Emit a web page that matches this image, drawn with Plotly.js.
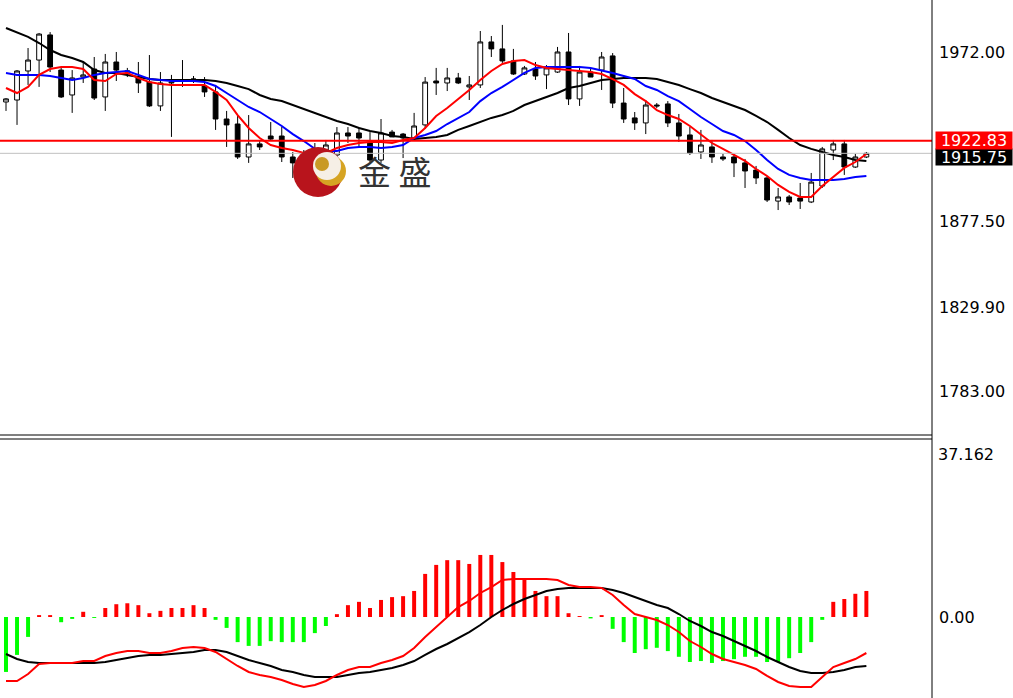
<!DOCTYPE html>
<html>
<head>
<meta charset="utf-8">
<script src="https://cdn.plot.ly/plotly-3.0.1.min.js"></script>
<style>html,body{margin:0;padding:0;background:#fff;}#chart{width:1013px;height:698px;}</style>
</head>
<body>
<div id="chart"></div>
<script>
// ---- Price candles ----
const opens = [1944.4,1945.5,1961.7,1967.8,1981.8,1962.2,1948.3,1958.3,1962.8,1947.2,
1966.7,1961.1,1958.3,1955.5,1942.2,1955.0,1956.1,1956.7,1953.3,1950.0,
1934.9,1932.1,1913.7,1921.0,1925.4,1925.4,1913.7,1912.0,1908.7,1913.7,
1914.8,1927.1,1927.1,1922.1,1912.0,1927.6,1926.5,1924.3,1931.6,1956.1,
1955.0,1957.8,1952.8,1953.9,1977.9,1974.0,1967.3,1960.0,1962.8,1959.5,
1961.1,1972.3,1946.1,1961.1,1962.2,1970.1,1943.8,1935.5,1932.7,1942.7,
1943.3,1932.7,1926.0,1916.5,1919.3,1913.7,1913.7,1910.4,1906.4,1902.0,
1889.1,1891.4,1890.8,1888.6,1897.5,1917.6,1921.0,1908.1,1913.7];
const highs = [1946.6,1962.2,1974.5,1982.9,1983.4,1963.9,1962.2,1966.7,1969.5,1971.2,
1972.3,1963.4,1966.7,1970.6,1961.1,1959.5,1967.8,1958.9,1958.3,1953.9,
1939.4,1937.1,1937.1,1923.2,1933.2,1930.4,1916.5,1917.6,1921.5,1923.2,
1930.4,1930.4,1930.4,1927.6,1934.9,1928.8,1927.1,1938.3,1958.3,1963.4,
1963.4,1960.6,1958.9,1984.0,1981.2,1987.4,1974.0,1964.5,1966.7,1965.0,
1975.1,1982.9,1964.5,1962.8,1972.3,1971.7,1952.2,1938.8,1945.5,1943.8,
1944.9,1937.7,1930.4,1928.8,1923.2,1915.4,1915.4,1912.6,1908.7,1903.1,
1896.4,1892.5,1899.2,1904.8,1919.3,1923.2,1923.2,1915.4,1916.5];
const lows = [1939.4,1931.6,1953.9,1952.8,1961.1,1946.6,1938.3,1955.0,1945.5,1939.4,
1956.1,1958.3,1949.4,1941.6,1939.4,1924.9,1952.8,1955.0,1947.2,1928.8,
1919.3,1912.6,1910.4,1917.6,1923.2,1910.9,1902.0,1895.3,1905.3,1909.2,
1912.0,1921.5,1919.3,1910.9,1910.4,1924.9,1913.1,1923.2,1929.3,1948.3,
1950.5,1954.4,1945.5,1952.2,1969.5,1966.2,1959.5,1959.5,1956.7,1951.6,
1960.6,1942.7,1942.2,1958.3,1951.1,1941.0,1932.7,1928.8,1926.5,1941.0,
1930.4,1922.1,1914.8,1912.6,1910.4,1911.5,1902.5,1896.4,1898.6,1888.6,
1884.1,1886.9,1884.7,1888.0,1896.4,1912.0,1903.7,1907.6,1913.1];
const closes = [1946.1,1961.7,1967.8,1982.3,1963.9,1947.2,1957.8,1959.5,1946.6,1966.7,
1962.2,1961.7,1955.0,1942.2,1955.0,1955.5,1956.7,1957.2,1950.0,1934.9,
1931.6,1913.7,1921.0,1919.3,1923.7,1913.7,1910.4,1906.4,1916.5,1920.4,
1927.1,1925.4,1924.3,1912.0,1927.1,1924.9,1924.3,1931.0,1955.5,1955.0,
1957.8,1955.0,1953.9,1977.9,1974.0,1967.3,1960.0,1963.4,1958.9,1963.4,
1972.3,1946.1,1961.1,1958.3,1969.5,1943.8,1934.9,1932.7,1942.7,1942.2,
1932.7,1925.4,1915.9,1920.4,1913.7,1912.6,1910.4,1905.9,1902.0,1889.7,
1891.4,1888.6,1889.1,1899.7,1918.2,1921.0,1908.1,1913.7,1915.75];

// ---- Moving averages ----
const maRed = [1952.2,1949.4,1952.8,1959.5,1962.8,1963.9,1963.9,1962.8,1956.7,1956.1,
1960.0,1960.6,1957.8,1955.5,1954.4,1953.9,1953.9,1953.9,1953.9,1950.0,
1945.5,1937.1,1929.9,1924.3,1920.4,1918.7,1917.6,1915.9,1915.4,1915.9,
1918.7,1920.4,1921.5,1922.1,1922.1,1921.5,1923.2,1924.3,1929.9,1936.6,
1941.0,1946.1,1951.1,1956.7,1961.7,1965.6,1967.3,1967.8,1965.0,1963.4,
1962.8,1962.2,1961.7,1961.1,1960.0,1957.2,1953.9,1948.8,1944.9,1939.9,
1937.1,1934.9,1931.0,1926.0,1921.5,1918.2,1914.8,1911.5,1907.0,1903.1,
1898.1,1894.2,1891.4,1891.4,1897.5,1902.5,1907.6,1910.9,1915.4];
const maBlue = [1960.6,1959.5,1959.5,1959.5,1958.9,1957.8,1956.7,1957.8,1959.5,1960.6,
1961.1,1961.7,1959.5,1957.2,1956.7,1956.1,1956.1,1956.1,1955.5,1953.3,
1949.4,1945.5,1941.6,1938.8,1934.9,1931.0,1926.5,1922.6,1918.2,1917.0,
1917.0,1918.7,1919.3,1919.3,1918.7,1919.3,1920.4,1924.3,1926.0,1928.2,
1932.1,1935.5,1938.8,1944.9,1949.4,1952.8,1956.7,1960.6,1963.4,1963.9,
1963.9,1963.9,1963.9,1963.4,1962.2,1960.6,1958.9,1957.2,1953.3,1951.1,
1947.7,1944.9,1940.5,1936.0,1932.1,1928.2,1926.0,1922.6,1917.6,1912.0,
1907.0,1903.7,1902.0,1900.9,1900.9,1900.9,1901.4,1902.5,1903.1];
const maBlack = [1985.7,1983.4,1980.7,1977.3,1973.4,1970.6,1968.9,1966.7,1962.2,1960.6,
1960.6,1959.5,1958.3,1957.2,1956.7,1956.7,1956.7,1956.7,1956.7,1956.1,
1955.0,1953.3,1951.6,1948.3,1946.1,1944.9,1942.7,1940.5,1938.3,1936.0,
1933.8,1932.1,1929.9,1928.2,1927.1,1925.4,1924.9,1923.7,1924.3,1924.9,
1926.0,1928.8,1931.0,1933.2,1935.5,1937.1,1939.4,1942.7,1944.9,1947.2,
1949.4,1952.2,1953.3,1955.0,1956.7,1957.2,1957.8,1957.8,1957.8,1957.2,
1955.5,1953.9,1951.6,1949.4,1946.6,1944.4,1942.2,1939.9,1936.6,1933.2,
1928.8,1924.3,1920.4,1918.2,1916.5,1914.8,1913.7,1912.0,1911.5];

// ---- MACD panel ----
const macdHist = [-11.6,-8.0,-4.2,0.4,0.4,-1.1,-0.4,1.1,-0.2,1.9,
2.7,2.9,2.5,0.8,1.3,1.9,1.9,2.5,1.9,-0.6,
-2.3,-5.3,-6.1,-6.1,-5.1,-5.3,-5.3,-5.3,-3.4,-1.9,
0.6,2.5,3.2,1.9,3.6,4.2,4.4,5.5,9.1,11.0,
12.0,12.0,11.2,13.1,13.1,11.6,9.5,8.2,5.5,4.4,
4.4,0.8,0.2,-0.3,0.4,-2.5,-5.3,-7.6,-6.8,-6.5,
-7.2,-8.4,-9.5,-9.3,-9.7,-9.3,-8.9,-8.4,-8.4,-9.5,
-9.5,-8.7,-7.6,-5.3,-0.6,3.2,3.8,4.9,5.5];
const macdRed = [-13.51,-13.51,-12.03,-9.92,-9.71,-9.71,-9.71,-9.29,-9.29,-8.23,
-7.60,-7.18,-7.18,-7.60,-7.60,-7.18,-6.54,-6.33,-6.54,-7.39,
-8.87,-10.34,-11.61,-12.24,-12.67,-13.30,-14.14,-14.78,-14.35,-13.51,
-12.24,-11.19,-10.56,-10.56,-9.71,-9.08,-8.23,-6.54,-4.22,-2.11,
0.00,2.11,3.38,5.07,6.33,7.81,8.02,8.02,8.02,8.02,
7.81,6.76,6.33,6.33,6.12,4.64,2.53,0.63,0.00,-0.63,
-1.69,-3.17,-5.07,-6.33,-7.81,-8.87,-9.50,-10.13,-10.98,-12.45,
-13.72,-14.57,-14.78,-14.78,-12.67,-10.56,-9.71,-8.87,-7.60];
const macdBlack = [-7.81,-8.87,-9.50,-9.71,-9.71,-9.71,-9.71,-9.71,-9.71,-9.50,
-9.08,-8.66,-8.23,-8.02,-8.02,-7.81,-7.60,-7.39,-6.97,-6.97,
-7.39,-8.23,-9.08,-9.71,-10.34,-11.19,-11.61,-12.24,-12.67,-12.67,
-12.67,-12.24,-11.82,-11.61,-11.19,-10.77,-10.13,-9.29,-8.02,-6.76,
-5.70,-4.43,-3.17,-1.69,0.00,1.48,2.74,3.80,4.64,5.49,
5.91,6.12,6.12,6.12,6.12,5.70,5.07,4.22,3.38,2.53,
1.90,0.63,-0.84,-1.90,-3.17,-4.01,-5.07,-6.12,-7.18,-8.44,
-9.50,-10.56,-11.40,-11.82,-11.82,-11.61,-11.19,-10.56,-10.34];

// ---- Tick labels / levels ----
const priceTicks = [1972.00, 1877.50, 1829.90, 1783.00];
const priceTickText = ["1972.00", "1877.50", "1829.90", "1783.00"];
const macdTicks = [0];
const macdTickText = ["0.00"];
const macdMaxLabel = 37.162;
const alertLevel = 1922.83;
const lastPrice = 1915.75;
const watermark = "金 盛";

const idx = opens.map((_, i) => i);
const font = 'DejaVu Sans, Verdana, sans-serif';

const traces = [
  {type:'candlestick', x:idx, open:opens, high:highs, low:lows, close:closes,
   increasing:{line:{color:'#000', width:1}, fillcolor:'#fff'},
   decreasing:{line:{color:'#000', width:1}, fillcolor:'#000'},
   whiskerwidth:0, hoverinfo:'skip', xaxis:'x', yaxis:'y'},
  {type:'scatter', mode:'lines', x:idx, y:maBlack, line:{color:'#000', width:2}, xaxis:'x', yaxis:'y', hoverinfo:'skip'},
  {type:'scatter', mode:'lines', x:idx, y:maBlue, line:{color:'#0000ff', width:2}, xaxis:'x', yaxis:'y', hoverinfo:'skip'},
  {type:'scatter', mode:'lines', x:idx, y:maRed, line:{color:'#ff0000', width:2}, xaxis:'x', yaxis:'y', hoverinfo:'skip'},
  {type:'bar', x:idx, y:macdHist, width:0.36,
   marker:{color:macdHist.map(v => v >= 0 ? '#ff0000' : '#00ff00'), line:{width:0}},
   xaxis:'x', yaxis:'y2', hoverinfo:'skip'},
  {type:'scatter', mode:'lines', x:idx, y:macdBlack, line:{color:'#000', width:2}, xaxis:'x', yaxis:'y2', hoverinfo:'skip'},
  {type:'scatter', mode:'lines', x:idx, y:macdRed, line:{color:'#ff0000', width:2}, xaxis:'x', yaxis:'y2', hoverinfo:'skip'}
];

function circ(cx, cy, r, color) {
  return {type:'circle', xref:'paper', yref:'paper', xsizemode:'pixel', ysizemode:'pixel',
    xanchor:0, yanchor:1, x0:cx - r, x1:cx + r, y0:-(cy + r), y1:-(cy - r),
    fillcolor:color, line:{width:0}, layer:'above'};
}

const topBottom = 1 - 435/698;
const botTop = 1 - 439/698;

const layout = {
  width:1013, height:698,
  margin:{l:0, r:81, t:0, b:0, pad:0},
  paper_bgcolor:'#fff', plot_bgcolor:'#fff',
  showlegend:false,
  boxgap:0.38,
  xaxis:{range:[-0.544, 83.95], showgrid:false, zeroline:false, showticklabels:false, ticks:'',
         rangeslider:{visible:false}, anchor:'y2', showline:false, fixedrange:true},
  yaxis:{domain:[topBottom, 1], range:[1758.57, 2001.3], side:'right', showgrid:false, zeroline:false,
         tickvals:priceTicks, ticktext:priceTickText, ticks:'', ticklabelstandoff:6,
         tickfont:{family:font, size:16, color:'#000'}, showline:false, fixedrange:true},
  yaxis2:{domain:[0, botTop], range:[-17.1, 37.58], side:'right', showgrid:false, zeroline:false,
         tickvals:macdTicks, ticktext:macdTickText, ticks:'', ticklabelstandoff:6,
         tickfont:{family:font, size:16, color:'#000'}, showline:false, fixedrange:true},
  shapes:[
    {type:'line', xref:'paper', yref:'y', x0:0, x1:1, y0:lastPrice, y1:lastPrice, line:{color:'#c0c0c0', width:1}},
    {type:'line', xref:'paper', yref:'y', x0:0, x1:1, y0:alertLevel, y1:alertLevel, line:{color:'#ff0000', width:2}},
    {type:'line', xref:'paper', yref:'paper', x0:1, x1:1, y0:0, y1:1, line:{color:'#000', width:1}},
    {type:'line', xref:'paper', yref:'paper', x0:0, x1:1, y0:topBottom, y1:topBottom, line:{color:'#000', width:1}},
    {type:'line', xref:'paper', yref:'paper', x0:0, x1:1, y0:botTop, y1:botTop, line:{color:'#000', width:1}},
    circ(318, 172, 25, '#b8141c'),
    circ(331, 171, 15, '#d6a423'),
    circ(327, 166, 14, '#f6efe6'),
    circ(322, 164, 7, '#c99a25')
  ],
  annotations:[
    {xref:'paper', yref:'y', x:1, y:lastPrice, xanchor:'left', yanchor:'middle', xshift:3, yshift:-4,
     text:lastPrice.toFixed(2), showarrow:false, bgcolor:'#000', width:76, height:16, borderpad:0,
     font:{family:font, size:16, color:'#fff'}},
    {xref:'paper', yref:'y', x:1, y:alertLevel, xanchor:'left', yanchor:'middle', xshift:3,
     text:alertLevel.toFixed(2), showarrow:false, bgcolor:'#ff0000', width:76, height:17, borderpad:0,
     font:{family:font, size:16, color:'#fff'}},
    {xref:'paper', yref:'y2', x:1, y:macdMaxLabel, xanchor:'left', yanchor:'top', xshift:4, yshift:-2,
     text:macdMaxLabel.toFixed(3), showarrow:false, font:{family:font, size:16, color:'#000'}},
    {xref:'paper', yref:'paper', x:0, y:1, xanchor:'center', yanchor:'middle', xshift:394, yshift:-171,
     text:watermark, showarrow:false, font:{family:'Noto Sans CJK SC, sans-serif', size:33, color:'#333'}}
  ]
};

Plotly.newPlot('chart', traces, layout, {staticPlot:true, displayModeBar:false});
</script>
</body>
</html>
